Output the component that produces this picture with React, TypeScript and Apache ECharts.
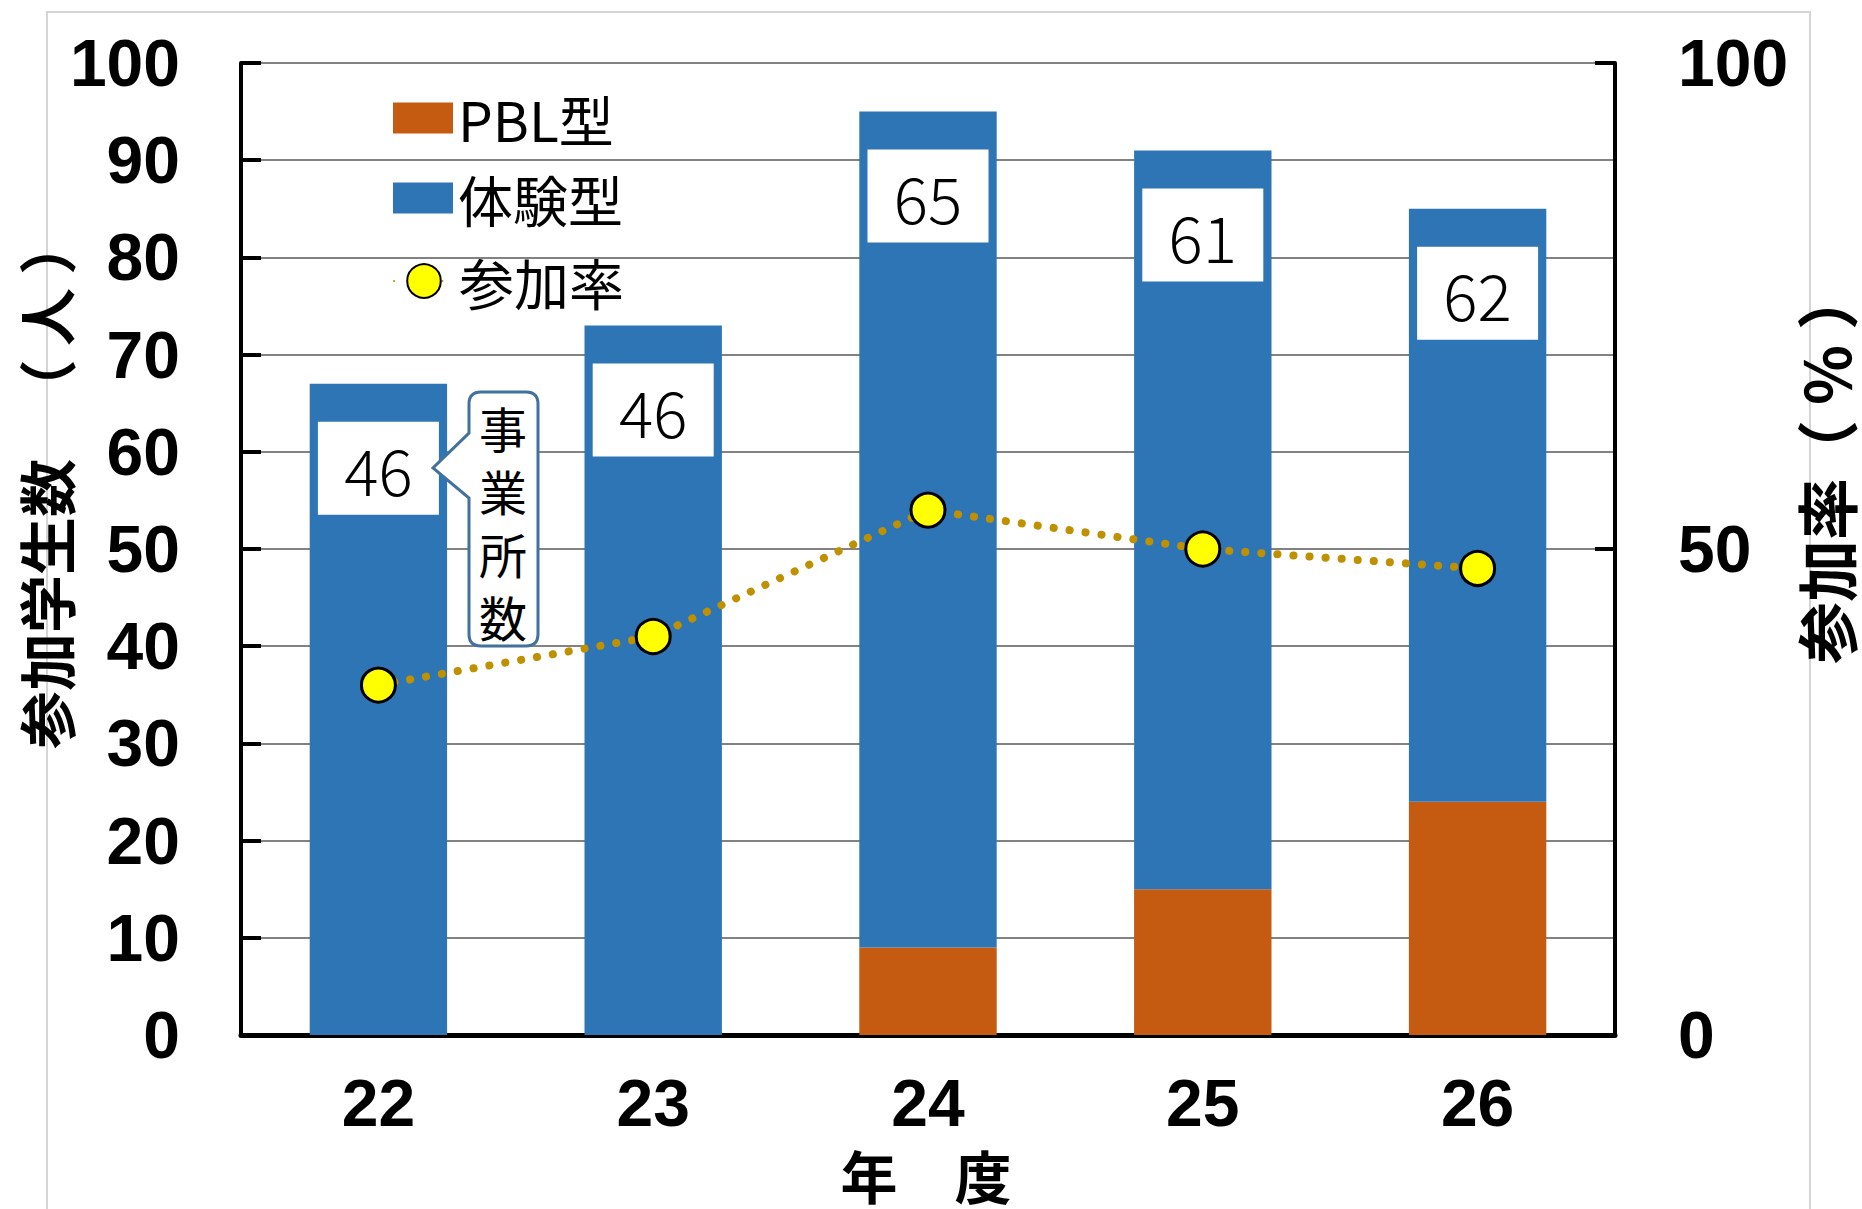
import React, { useEffect, useRef } from 'react';
import * as echarts from 'echarts';

// ---- data ----
const years = ['22', '23', '24', '25', '26'];
const pblStudents = [0, 0, 9, 15, 24];
const experienceStudents = [67, 73, 86, 76, 61];
const participationRate = [36, 41, 54, 50, 48];
const companyCounts = [46, 46, 65, 61, 62];
const leftAxisRange = [0, 100];
const leftAxisInterval = 10;
const rightAxisRange = [0, 100];
const rightAxisInterval = 50;

const seriesNames = ['PBL型', '体験型', '参加率'];
const leftAxisTitleMain = '参加学生数';
const leftAxisTitleUnit = '（ 人 ）';
const rightAxisTitleMain = '参加率';
const rightAxisTitleUnit = '（ ％ ）';
const xAxisTitle = '年　度';
const calloutChars = ['事', '業', '所', '数'];

// ---- style ----
const BLUE = '#2E75B6';
const ORANGE = '#C55A11';
const GOLD = '#BF9000';
const JP = '"Noto Sans CJK JP", "Noto Sans CJK SC", sans-serif';
const LAT = '"Liberation Sans", Arial, sans-serif';

// callout shape (annotation)
const cL = 469, cT = 392, cR = 538, cB = 646, cr = 12;
const tipX = 433, tipY = 468, baseY1 = 433, baseY2 = 498;
const calloutPath =
  `M ${cL + cr} ${cT} L ${cR - cr} ${cT} Q ${cR} ${cT} ${cR} ${cT + cr} ` +
  `L ${cR} ${cB - cr} Q ${cR} ${cB} ${cR - cr} ${cB} L ${cL + cr} ${cB} ` +
  `Q ${cL} ${cB} ${cL} ${cB - cr} L ${cL} ${baseY2} L ${tipX} ${tipY} L ${cL} ${baseY1} ` +
  `L ${cL} ${cT + cr} Q ${cL} ${cT} ${cL + cr} ${cT} Z`;
const calloutTextX = 503;
const calloutTextY0 = 427;
const calloutPitch = 63;

let registered = false;

function vText(x: number, y: number, text: string, font: string) {
  return {
    type: 'text',
    x,
    y,
    rotation: Math.PI / 2,
    style: { text, font, fill: '#000', align: 'center', verticalAlign: 'middle' },
  };
}

export default function App() {
  const ref = useRef<HTMLDivElement>(null);

  useEffect(() => {
    if (!ref.current) return;
    if (!registered) {
      echarts.graphic.registerShape('callout', echarts.graphic.extendPath(calloutPath, {}));
      registered = true;
    }
    const chart = echarts.init(ref.current, null, { renderer: 'svg' });

    const axisLabelStyle = {
      fontFamily: LAT,
      fontWeight: 'bold' as const,
      fontSize: 66,
      color: '#000',
    };
    const legendText = {
      fontFamily: JP,
      fontSize: 55,
      color: '#000',
      lineHeight: 60,
    };

    chart.setOption({
      animation: false,
      backgroundColor: '#fff',
      grid: { left: 241, right: 247, top: 63, bottom: 174, containLabel: false },
      legend: [
        {
          data: [seriesNames[0]], left: 393, top: 88, padding: 0, icon: 'rect',
          itemWidth: 60, itemHeight: 31, selectedMode: false, textStyle: legendText,
        },
        {
          data: [seriesNames[1]], left: 393, top: 168, padding: 0, icon: 'rect',
          itemWidth: 60, itemHeight: 31, selectedMode: false, textStyle: legendText,
        },
        {
          data: [seriesNames[2]], left: 393, top: 251, padding: 0,
          itemWidth: 60, itemHeight: 42, selectedMode: false, textStyle: legendText,
        },
      ],
      xAxis: {
        type: 'category',
        data: years,
        axisLine: { show: true, lineStyle: { color: '#000', width: 5 } },
        axisTick: { show: false },
        axisLabel: { ...axisLabelStyle, margin: 35 },
        splitLine: { show: false },
      },
      yAxis: [
        {
          type: 'value',
          min: leftAxisRange[0],
          max: leftAxisRange[1],
          interval: leftAxisInterval,
          axisLine: { show: true, lineStyle: { color: '#000', width: 4 } },
          axisTick: { show: true, inside: true, length: 20, lineStyle: { color: '#000', width: 4 } },
          axisLabel: { ...axisLabelStyle, margin: 61 },
          splitLine: { show: true, lineStyle: { color: '#595959', width: 1.5 } },
        },
        {
          type: 'value',
          position: 'right',
          min: rightAxisRange[0],
          max: rightAxisRange[1],
          interval: rightAxisInterval,
          axisLine: { show: true, lineStyle: { color: '#000', width: 4 } },
          axisTick: { show: true, inside: true, length: 20, lineStyle: { color: '#000', width: 4 } },
          axisLabel: { ...axisLabelStyle, margin: 63 },
          splitLine: { show: false },
        },
      ],
      series: [
        {
          name: seriesNames[0],
          type: 'bar',
          stack: 'students',
          data: pblStudents,
          barWidth: '50%',
          itemStyle: { color: ORANGE },
        },
        {
          name: seriesNames[1],
          type: 'bar',
          stack: 'students',
          data: experienceStudents,
          barWidth: '50%',
          itemStyle: { color: BLUE },
          label: {
            show: true,
            position: 'insideTop',
            distance: 38,
            formatter: (p: any) => String(companyCounts[p.dataIndex]),
            backgroundColor: '#fff',
            width: 121,
            height: 93,
            lineHeight: 93,
            padding: 0,
            align: 'center',
            verticalAlign: 'top',
            fontFamily: JP,
            fontWeight: 300,
            fontSize: 64,
            color: '#000',
          },
        },
        {
          name: seriesNames[2],
          type: 'line',
          yAxisIndex: 1,
          data: participationRate,
          symbol: 'circle',
          symbolSize: 34,
          z: 5,
          itemStyle: { color: '#FFFF00', borderColor: '#000', borderWidth: 3 },
          lineStyle: { color: GOLD, width: 8, type: [0.1, 16], cap: 'round' },
        },
      ],
      graphic: [
        {
          type: 'rect',
          silent: true,
          z: -1,
          shape: { x: 47, y: 12, width: 1763, height: 1260 },
          style: { fill: 'none', stroke: '#D4D4D4', lineWidth: 2 },
        },
        vText(45, 604, leftAxisTitleMain, `bold 58px ${JP}`),
        vText(45, 317, leftAxisTitleUnit, `bold 58px ${JP}`),
        vText(1825, 571, rightAxisTitleMain, `bold 62px ${JP}`),
        vText(1825, 375, rightAxisTitleUnit, `bold 62px ${JP}`),
        {
          type: 'text',
          x: 926,
          y: 1174,
          style: {
            text: xAxisTitle,
            font: `bold 57px ${JP}`,
            fill: '#000',
            align: 'center',
            verticalAlign: 'middle',
          },
        },
        {
          type: 'callout',
          z: 100,
          style: { fill: '#fff', stroke: '#41719C', lineWidth: 3 },
        },
        ...calloutChars.map((ch, i) => ({
          type: 'text',
          z: 101,
          x: calloutTextX,
          y: calloutTextY0 + i * calloutPitch,
          style: {
            text: ch,
            font: `48px ${JP}`,
            fill: '#000',
            align: 'center',
            verticalAlign: 'middle',
          },
        })),
      ],
    });

    return () => {
      chart.dispose();
    };
  }, []);

  return (
    <div
      ref={ref}
      style={{ position: 'fixed', left: 0, top: 0, width: 1862, height: 1209, background: '#fff' }}
    />
  );
}
